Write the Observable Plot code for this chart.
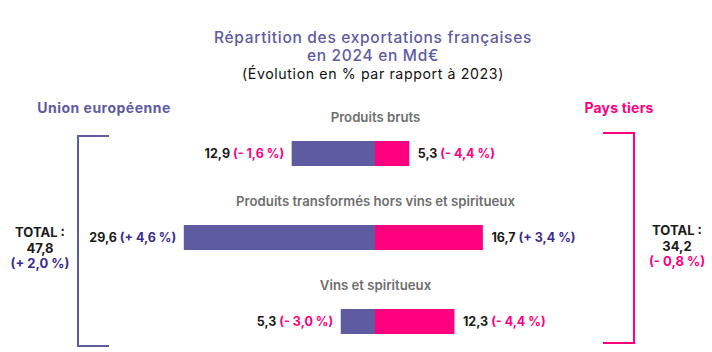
<!DOCTYPE html>
<html>
<head>
<meta charset="utf-8">
<script src="https://cdn.jsdelivr.net/npm/d3@7"></script>
<script src="https://cdn.jsdelivr.net/npm/@observablehq/plot@0.6"></script>
<style>
  html, body { margin: 0; padding: 0; background: #fff; }
  #wrap { position: relative; width: 712px; height: 352px; overflow: hidden; font-family: Inter, "Noto Sans", sans-serif; }
  .abs { position: absolute; white-space: nowrap; }
  .title { left: 0; width: 746px; text-align: center; color: #5e5ba0; font-size: 15.5px; font-weight: 500; line-height: 16px; letter-spacing: 0.7px; }
  .sub { left: 0; width: 746px; text-align: center; color: #111; font-size: 14.2px; line-height: 16px; letter-spacing: 0.6px; }
  .side { font-weight: 700; font-size: 14px; transform: translate(-50%, -50%); letter-spacing: 0.5px; }
  .total { font-weight: 700; font-size: 13px; line-height: 15.5px; text-align: center; transform: translate(-50%, -50%); color: #1a1a1a; }
  .br { position: absolute; box-sizing: border-box; }
  #chart { position: absolute; left: 0; top: 90px; }
</style>
</head>
<body>
<div id="wrap">
  <div class="abs title" style="top:30px;">Répartition des exportations françaises</div>
  <div class="abs title" style="top:48px;">en 2024 en Md€</div>
  <div class="abs sub" style="top:66px;">(Évolution en % par rapport à 2023)</div>
  <div id="ueLabel" class="abs side" style="left:104px; top:107px; color:#5e5ba0;"></div>
  <div id="ptLabel" class="abs side" style="left:619px; top:107px; color:#fe007f; letter-spacing:0.2px;"></div>
  <div class="br" style="left:77px; top:135px; width:32px; height:212px; border:2px solid #5e5ba0; border-right:none;"></div>
  <div class="br" style="left:603px; top:132px; width:32px; height:212px; border:2px solid #fe007f; border-left:none;"></div>
  <div id="ueTotal" class="abs total" style="left:40px; top:248px;"></div>
  <div id="ptTotal" class="abs total" style="left:677px; top:246px;"></div>
  <div id="chart"></div>
</div>
<script>
// ---- Data ----
const categories = ["Produits bruts", "Produits transformés hors vins et spiritueux", "Vins et spiritueux"];
const ueValues = [12.9, 29.6, 5.3];
const ueChanges = [-1.6, 4.6, -3.0];
const ptValues = [5.3, 16.7, 12.3];
const ptChanges = [-4.4, 3.4, -4.4];
const groupNames = ["Union européenne", "Pays tiers"];
const totals = [47.8, 34.2];
const totalChanges = [2.0, -0.8];

// ---- Helpers ----
const POS = "#3a2a8a", NEG = "#fe007f", UE = "#5e5ba0", PT = "#fe007f";
const fmtNum = v => d3.format(".1f")(v).replace(".", ",");
const fmtChg = v => `(${v < 0 ? "-" : "+"} ${fmtNum(Math.abs(v))} %)`;
const chgColor = v => v < 0 ? NEG : POS;

const ueRows = categories.map((c, i) => ({cat: c, side: "ue", x: -ueValues[i], v: ueValues[i], chg: ueChanges[i]}));
const ptRows = categories.map((c, i) => ({cat: c, side: "pt", x: ptValues[i], v: ptValues[i], chg: ptChanges[i]}));
const rows = ueRows.concat(ptRows);

// ---- Side labels & totals ----
document.getElementById("ueLabel").textContent = groupNames[0];
document.getElementById("ptLabel").textContent = groupNames[1];
function totalHtml(t, c) {
  return `TOTAL :<br>${fmtNum(t)}<br><span style="color:${chgColor(c)}">${fmtChg(c)}</span>`;
}
document.getElementById("ueTotal").innerHTML = totalHtml(totals[0], totalChanges[0]);
document.getElementById("ptTotal").innerHTML = totalHtml(totals[1], totalChanges[1]);

// ---- Chart ----
const W = 712, H = 262;
const k = 6.46; // px per Md€
const zeroX = 375;
const labelText = d => fmtNum(d.v) + "\u00a0" + fmtChg(d.chg) + "|" + d.chg;
const labelOpts = {x: "x", y: "cat", text: labelText, dy: 7.5, fill: "#1a1a1a", fontWeight: 700, fontSize: 12.5};
const plot = Plot.plot({
  width: W,
  height: H,
  margin: 0,
  style: {fontFamily: "Inter, Noto Sans, sans-serif", background: "transparent"},
  x: {domain: [-zeroX / k, (W - zeroX) / k], range: [0, W], axis: null},
  y: {type: "band", domain: categories, range: [14, 266], padding: 0, axis: null},
  marks: [
    Plot.barX(rows, {x: "x", y: "cat", fill: d => d.side === "ue" ? UE : PT, insetTop: 37, insetBottom: 22}),
    Plot.ruleX(categories, {x: () => 0, y: d => d, stroke: "#9a9a9a", strokeWidth: 1.5, insetTop: 23, insetBottom: -2}),
    Plot.text(categories, {x: () => 0, y: d => d, text: d => d, dy: -29, fill: "#6f6f6f", fontWeight: 600, fontSize: 13.2}),
    Plot.text(ueRows, {...labelOpts, textAnchor: "end", dx: -8}),
    Plot.text(ptRows, {...labelOpts, textAnchor: "start", dx: 8})
  ]
});
document.getElementById("chart").appendChild(plot);

// split value labels into coloured tspans
d3.select(plot).selectAll("text").each(function () {
  const el = d3.select(this);
  const raw = el.text();
  if (raw.indexOf("|") < 0) return;
  const [label, chg] = raw.split("|");
  const idx = label.indexOf("\u00a0");
  el.text(null);
  el.append("tspan").text(label.slice(0, idx + 1));
  el.append("tspan").attr("fill", chgColor(+chg)).text(label.slice(idx + 1));
});
</script>
</body>
</html>
